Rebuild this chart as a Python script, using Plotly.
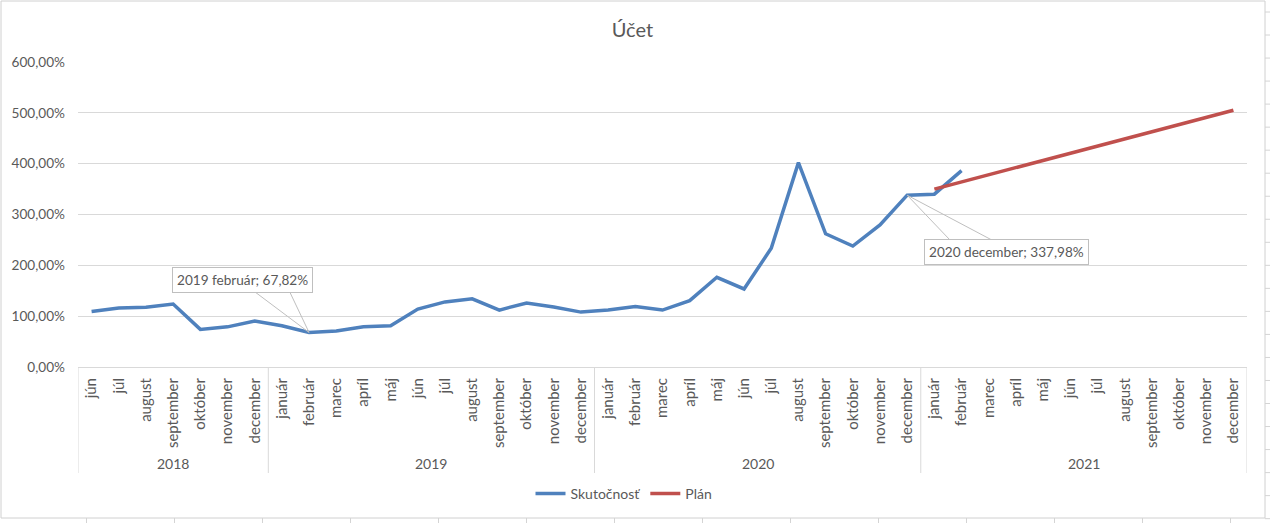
import plotly.graph_objects as go

years = ["2018"] * 7 + ["2019"] * 12 + ["2020"] * 12 + ["2021"] * 12
month_names = ["január", "február", "marec", "apríl", "máj", "jún",
               "júl", "august", "september", "október", "november", "december"]
months = month_names[5:] + month_names * 3

# skutočnosť (actual), % -- jún 2018 .. február 2021
actual = [109, 116, 117.5, 124, 74, 79, 90.5,
          81, 67.82, 71, 79, 81, 114, 128, 134, 112, 126, 118, 108,
          112, 119, 112, 130.5, 176.5, 153.5, 233.6, 402, 262, 238, 279.5, 337.98,
          340, 386.4]
# plán (plan), % -- 2021
plan = [350, 364, 378, 393, 407, 421, 435, 449, 463, 477, 491, 505]

n = len(months)
keys = [f"{y} {m}" for y, m in zip(years, months)]
actual_y = actual + [None] * (n - len(actual))
plan_y = [None] * (n - len(plan)) + plan

W, H = 1270, 523
L, R, T, B = 78, 23, 62, 156
PW, PH = W - L - R, H - T - B

def px_x(x):
    return (x - L) / PW

def px_y(y):
    return (H - B - y) / PH

grey = "#595959"
line_grey = "#d9d9d9"
font = "Lato"

fig = go.Figure()
fig.add_trace(go.Scatter(x=keys, y=actual_y, name="Skutočnosť", mode="lines",
                         line=dict(color="#4F81BD", width=3.5)))
fig.add_trace(go.Scatter(x=keys, y=plan_y, name="Plán", mode="lines",
                         line=dict(color="#C0504D", width=3.5)))

# year groups under the month labels
year_list = sorted(set(years))
start = 0
for yr in year_list:
    cnt = years.count(yr)
    fig.add_annotation(x=start + (cnt - 1) / 2, xref="x", y=px_y(463), yref="paper",
                       text=yr, showarrow=False, yanchor="middle",
                       font=dict(family=font, size=14, color=grey))
    fig.add_shape(type="line", xref="x", yref="paper", x0=start - 0.5, x1=start - 0.5,
                  y0=0, y1=px_y(473), line=dict(color=line_grey, width=1))
    start += cnt
fig.add_shape(type="line", xref="x", yref="paper", x0=start - 0.5, x1=start - 0.5,
              y0=0, y1=px_y(473), line=dict(color=line_grey, width=1))

# data callouts
callouts = [(8, -67, 53, [(-56, 42), (-20, 42)]),
            (30, 99, -57, [(43, -45), (85, -45)])]
for idx, dx, dy, legs in callouts:
    label = f"{years[idx]} {months[idx]}; {actual[idx]:.2f}%".replace(".", ",")
    fig.add_annotation(x=idx, y=actual[idx], xref="x", yref="y", text=label,
                       showarrow=False, xshift=dx, yshift=dy,
                       font=dict(family=font, size=13.6, color=grey),
                       bordercolor="#bfbfbf", borderwidth=1, borderpad=4, bgcolor="white")
    (ax1, ay1), (ax2, ay2) = legs
    fig.add_shape(type="path", xref="x", yref="y", xsizemode="pixel", ysizemode="pixel",
                  xanchor=idx, yanchor=actual[idx],
                  path=f"M{ax1},{ay1} L0,0 L{ax2},{ay2}",
                  line=dict(color="#bfbfbf", width=1))

# chart frame and sheet cell lines around it
fig.add_shape(type="rect", xref="paper", yref="paper",
              x0=px_x(1), x1=px_x(1265), y0=px_y(518), y1=px_y(1),
              line=dict(color="#d0d0d0", width=1), layer="below")
for cx in range(0, 14):
    xx = 86.5 + 88 * cx
    fig.add_shape(type="line", xref="paper", yref="paper", x0=px_x(xx), x1=px_x(xx),
                  y0=px_y(518), y1=px_y(523), line=dict(color="#d4d4d4", width=1))
for cy in range(0, 23):
    yy = 12 + 23.03 * cy
    fig.add_shape(type="line", xref="paper", yref="paper", x0=px_x(1265), x1=px_x(1270),
                  y0=px_y(yy), y1=px_y(yy), line=dict(color="#d4d4d4", width=1))

fig.update_layout(
    width=W, height=H,
    margin=dict(l=L, r=R, t=T, b=B),
    paper_bgcolor="white", plot_bgcolor="white",
    separators=", ",
    title=dict(text="Účet", x=0.498, xanchor="center", y=1 - 30 / H, yanchor="middle",
               font=dict(family=font, size=20, color=grey)),
    font=dict(family=font, size=13, color=grey),
    showlegend=True,
    legend=dict(orientation="h", x=px_x(624), xanchor="center", y=px_y(494), yanchor="middle",
                itemwidth=30, tracegroupgap=0,
                font=dict(family=font, size=14, color=grey)),
    hovermode=False,
)
fig.update_xaxes(type="category", tickangle=-90, showgrid=False,
                 range=[-0.5, n - 0.5],
                 tickvals=keys, ticktext=months, ticklabelstandoff=4,
                 showline=True, linecolor=line_grey, ticks="",
                 tickfont=dict(family=font, size=15, color=grey))
fig.update_yaxes(range=[0, 600], dtick=100, tickformat=".2f", ticksuffix="%",
                 showgrid=True, gridcolor=line_grey, zeroline=False, ticklabelstandoff=12,
                 tickfont=dict(family=font, size=13.6, color=grey))

fig.write_html("out.html", config={"displayModeBar": False},
               post_script="document.body.style.margin='0';")
